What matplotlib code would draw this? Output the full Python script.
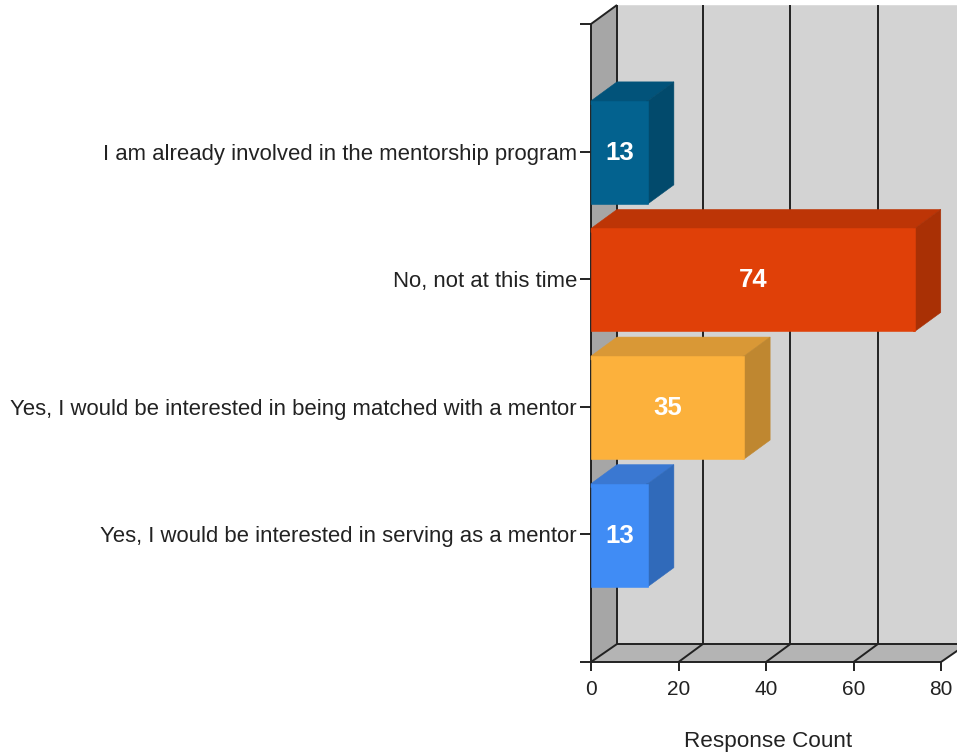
import matplotlib
matplotlib.use('Agg')
import matplotlib.pyplot as plt
from matplotlib.patches import Polygon

plt.rcParams['font.family'] = ['Liberation Sans', 'DejaVu Sans']

categories = [
    'I am already involved in the mentorship program',
    'No, not at this time',
    'Yes, I would be interested in being matched with a mentor',
    'Yes, I would be interested in serving as a mentor',
]
counts = [13, 74, 35, 13]
x_ticks = [0, 20, 40, 60, 80]
front_colors = ['#03628f', '#e04008', '#fcb13c', '#408cf5']
top_colors = ['#02537a', '#bd3506', '#d99836', '#3a78d2']
side_colors = ['#024a6c', '#a93005', '#bf8730', '#306aba']

W, H = 957, 756
fig = plt.figure(figsize=(W / 100, H / 100), dpi=100)
ax = fig.add_axes([591 / W, (H - 662) / H, 350 / W, 638 / H])
ax.set_xlim(0, 80)
ax.set_ylim(5, 0)
for s in ax.spines.values():
    s.set_visible(False)
ax.patch.set_visible(False)

# depth of the fake 3d box, in data units
dx = 26 / 4.375
dx_grid = 24.4 / 4.375  # inner grid lines lean a little less than the wall
dy = 19 / 127.6
dy_floor = 18 / 127.6
line_c = '#222222'
line_w = 1.4
far = 90  # runs off the right edge of the figure


def poly(pts, color, z):
    ax.add_patch(Polygon(pts, closed=True, facecolor=color, edgecolor=color, lw=0.4,
                         zorder=z, clip_on=False))


def line(xs, ys, z=2):
    ax.plot(xs, ys, color=line_c, lw=line_w, zorder=z, clip_on=False,
            solid_capstyle='butt')


# walls and floor
poly([(dx, 0 - dy), (far, 0 - dy), (far, 5 - dy_floor), (dx, 5 - dy_floor)], '#d3d3d3', 1)
poly([(0, 0), (dx, 0 - dy), (dx, 5 - dy_floor), (0, 5)], '#a6a6a6', 1)
poly([(0, 5), (dx, 5 - dy_floor), (far, 5 - dy_floor), (80 + dx, 5 - dy_floor), (80, 5)], '#b4b4b4', 1)

# grid lines on the back wall and floor
line([dx, dx], [0 - dy, 5 - dy_floor])
line([0, dx], [5, 5 - dy_floor])
for t in x_ticks[1:]:
    off = dx_grid if t < 80 else dx
    line([t + off, t + off], [0 - dy, 5 - dy_floor])
    line([t, t + off], [5, 5 - dy_floor])
line([0, 0], [0, 5], 2)
line([0, dx], [0, 0 - dy])
line([dx, far], [5 - dy_floor, 5 - dy_floor])
line([0, 80], [5, 5])

# bars
y_pos = [1, 2, 3, 4]
h = 0.807
shift = 0.006
lap = 0.03  # top and side run slightly under the front face so no seam shows
bar_y = [y + shift for y in y_pos]
ax.barh(bar_y, counts, height=h, color=front_colors, edgecolor=front_colors,
        linewidth=0.4, zorder=4)
for y, v, tc, sc in zip(bar_y, counts, top_colors, side_colors):
    top = y - h / 2
    bot = y + h / 2
    poly([(0, top + lap), (0, top), (dx, top - dy), (v + dx, top - dy), (v, top), (v, top + lap)], tc, 3)
    poly([(v - 0.3, top), (v, top), (v + dx, top - dy), (v + dx, bot - dy), (v, bot), (v - 0.3, bot)], sc, 3)
    ax.text(v / 2, y + 0.003, str(v), color='white', fontsize=18.5, fontweight='bold',
            ha='center', va='center', zorder=5)

ax.set_yticks([0] + y_pos + [5])
ax.set_yticklabels([''] + categories + [''])
ax.set_xticks(x_ticks)
ax.tick_params(axis='y', length=8, width=line_w, color=line_c, pad=2,
               labelsize=15.9, labelcolor='#222222')
ax.tick_params(axis='x', length=6.5, width=line_w, color=line_c, pad=6.5,
               labelsize=15, labelcolor='#222222')
ax.set_xlabel('Response Count', fontsize=16.2, color='#222222', labelpad=23, x=0.505)

fig.savefig('out.png', dpi=100)
